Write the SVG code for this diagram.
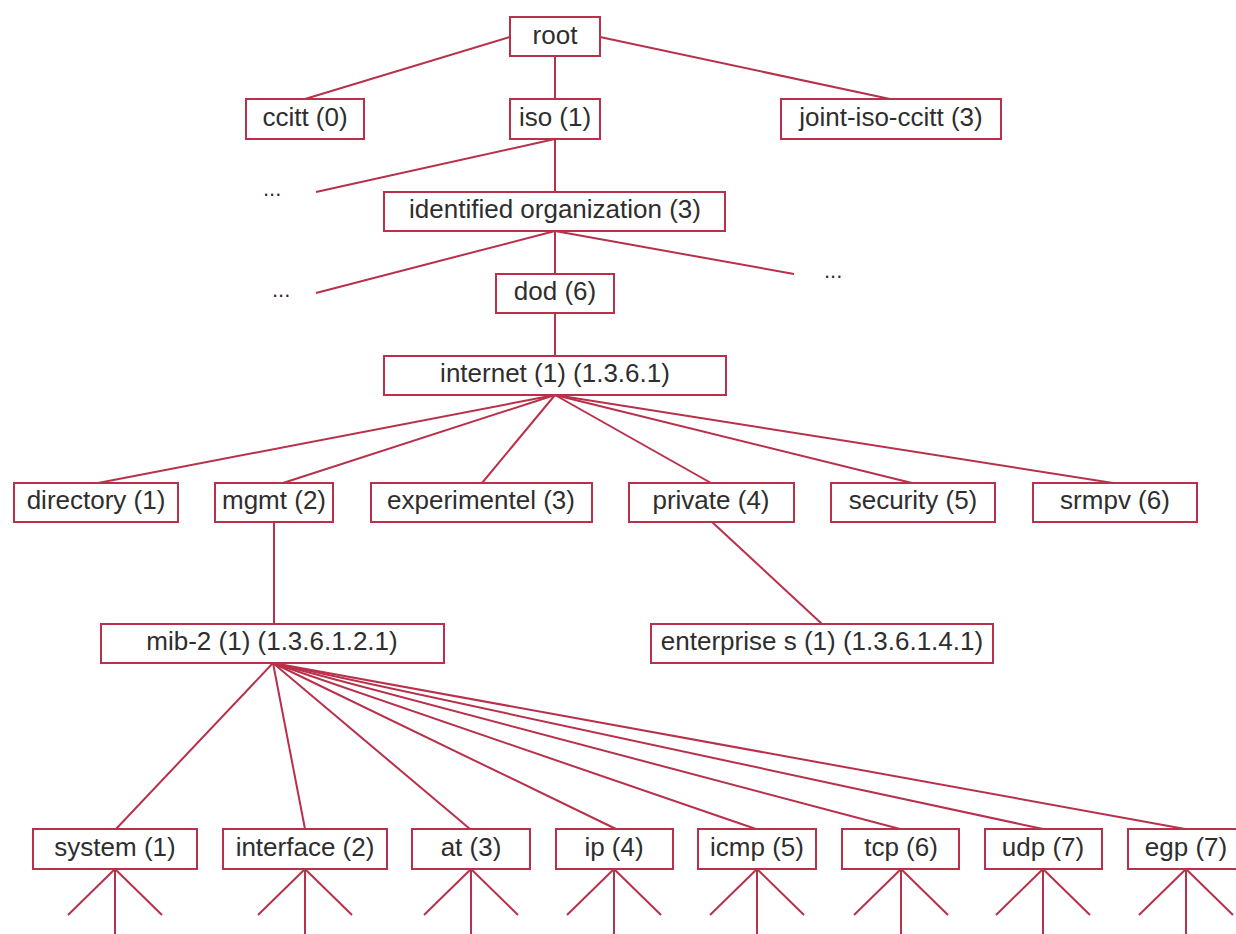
<svg xmlns="http://www.w3.org/2000/svg" width="1236" height="934" viewBox="0 0 1236 934">
<style>
.b{fill:#fff;stroke:#b8304a;stroke-width:2}
.t{font-family:"Liberation Sans",Arial,sans-serif;font-size:26px;fill:#2e2e2e;text-anchor:middle}
.e{font-family:"Liberation Sans",Arial,sans-serif;font-size:22px;fill:#2e2e2e}
#connectors line{stroke:#b8304a;stroke-width:2}
</style>
<rect width="1236" height="934" fill="#fff"/>
<g id="connectors">
<line x1="555" y1="56" x2="555" y2="99"/>
<line x1="510" y1="37" x2="305" y2="99"/>
<line x1="600" y1="37" x2="890" y2="99"/>
<line x1="555" y1="139" x2="316" y2="192"/>
<line x1="555" y1="139" x2="555" y2="192"/>
<line x1="555" y1="231" x2="316" y2="293"/>
<line x1="555" y1="231" x2="555" y2="274"/>
<line x1="555" y1="231" x2="794" y2="274"/>
<line x1="555" y1="313" x2="555" y2="356"/>
<line x1="555" y1="395" x2="98" y2="483"/>
<line x1="555" y1="395" x2="283" y2="483"/>
<line x1="555" y1="395" x2="482" y2="483"/>
<line x1="555" y1="395" x2="711" y2="483"/>
<line x1="555" y1="395" x2="912" y2="483"/>
<line x1="555" y1="395" x2="1113" y2="483"/>
<line x1="274" y1="522" x2="274" y2="624"/>
<line x1="712" y1="522" x2="822" y2="624"/>
<line x1="273" y1="663" x2="116" y2="829"/>
<line x1="273" y1="663" x2="305" y2="829"/>
<line x1="273" y1="663" x2="470" y2="829"/>
<line x1="273" y1="663" x2="616" y2="829"/>
<line x1="273" y1="663" x2="756" y2="829"/>
<line x1="273" y1="663" x2="900" y2="829"/>
<line x1="273" y1="663" x2="1043" y2="829"/>
<line x1="273" y1="663" x2="1185" y2="829"/>
<line x1="115" y1="869" x2="68" y2="915"/><line x1="115" y1="869" x2="115" y2="934"/><line x1="115" y1="869" x2="162" y2="915"/>
<line x1="305" y1="869" x2="258" y2="915"/><line x1="305" y1="869" x2="305" y2="934"/><line x1="305" y1="869" x2="352" y2="915"/>
<line x1="471" y1="869" x2="424" y2="915"/><line x1="471" y1="869" x2="471" y2="934"/><line x1="471" y1="869" x2="518" y2="915"/>
<line x1="614" y1="869" x2="567" y2="915"/><line x1="614" y1="869" x2="614" y2="934"/><line x1="614" y1="869" x2="661" y2="915"/>
<line x1="757" y1="869" x2="710" y2="915"/><line x1="757" y1="869" x2="757" y2="934"/><line x1="757" y1="869" x2="804" y2="915"/>
<line x1="901" y1="869" x2="854" y2="915"/><line x1="901" y1="869" x2="901" y2="934"/><line x1="901" y1="869" x2="948" y2="915"/>
<line x1="1043" y1="869" x2="996" y2="915"/><line x1="1043" y1="869" x2="1043" y2="934"/><line x1="1043" y1="869" x2="1090" y2="915"/>
<line x1="1186" y1="869" x2="1139" y2="915"/><line x1="1186" y1="869" x2="1186" y2="934"/><line x1="1186" y1="869" x2="1233" y2="915"/>
</g>
<g id="ellipsis1"><text class="e" x="263" y="196">...</text></g>
<g id="ellipsis2"><text class="e" x="272" y="297">...</text></g>
<g id="ellipsis3"><text class="e" x="824" y="278">...</text></g>
<g id="root"><rect class="b" x="510" y="17" width="90" height="39"/><text class="t" x="555" y="44">root</text></g>
<g id="ccitt"><rect class="b" x="246" y="99" width="118" height="40"/><text class="t" x="305" y="126">ccitt (0)</text></g>
<g id="iso"><rect class="b" x="510" y="99" width="90" height="40"/><text class="t" x="555" y="126">iso (1)</text></g>
<g id="joint-iso-ccitt"><rect class="b" x="781" y="99" width="220" height="40"/><text class="t" x="891" y="126">joint-iso-ccitt (3)</text></g>
<g id="identified-organization"><rect class="b" x="384" y="192" width="341" height="39"/><text class="t" x="555" y="218">identified organization (3)</text></g>
<g id="dod"><rect class="b" x="496" y="274" width="118" height="39"/><text class="t" x="555" y="300">dod (6)</text></g>
<g id="internet"><rect class="b" x="384" y="356" width="342" height="39"/><text class="t" x="555" y="382">internet (1) (1.3.6.1)</text></g>
<g id="directory"><rect class="b" x="14" y="483" width="164" height="39"/><text class="t" x="96" y="509">directory (1)</text></g>
<g id="mgmt"><rect class="b" x="215" y="483" width="118" height="39"/><text class="t" x="274" y="509">mgmt (2)</text></g>
<g id="experimentel"><rect class="b" x="371" y="483" width="221" height="39"/><text class="t" x="481" y="509">experimentel (3)</text></g>
<g id="private"><rect class="b" x="629" y="483" width="165" height="39"/><text class="t" x="711" y="509">private (4)</text></g>
<g id="security"><rect class="b" x="831" y="483" width="164" height="39"/><text class="t" x="913" y="509">security (5)</text></g>
<g id="srmpv"><rect class="b" x="1033" y="483" width="164" height="39"/><text class="t" x="1115" y="509">srmpv (6)</text></g>
<g id="mib-2"><rect class="b" x="101" y="624" width="343" height="39"/><text class="t" x="272" y="650">mib-2 (1) (1.3.6.1.2.1)</text></g>
<g id="enterprises"><rect class="b" x="651" y="624" width="342" height="39"/><text class="t" x="822" y="650">enterprise s (1) (1.3.6.1.4.1)</text></g>
<g id="system"><rect class="b" x="33" y="829" width="164" height="40"/><text class="t" x="115" y="856">system (1)</text></g>
<g id="interface"><rect class="b" x="223" y="829" width="164" height="40"/><text class="t" x="305" y="856">interface (2)</text></g>
<g id="at"><rect class="b" x="412" y="829" width="118" height="40"/><text class="t" x="471" y="856">at (3)</text></g>
<g id="ip"><rect class="b" x="556" y="829" width="117" height="40"/><text class="t" x="614" y="856">ip (4)</text></g>
<g id="icmp"><rect class="b" x="698" y="829" width="118" height="40"/><text class="t" x="757" y="856">icmp (5)</text></g>
<g id="tcp"><rect class="b" x="842" y="829" width="117" height="40"/><text class="t" x="901" y="856">tcp (6)</text></g>
<g id="udp"><rect class="b" x="985" y="829" width="117" height="40"/><text class="t" x="1043" y="856">udp (7)</text></g>
<g id="egp"><rect class="b" x="1128" y="829" width="120" height="40"/><text class="t" x="1186" y="856">egp (7)</text></g>
</svg>
